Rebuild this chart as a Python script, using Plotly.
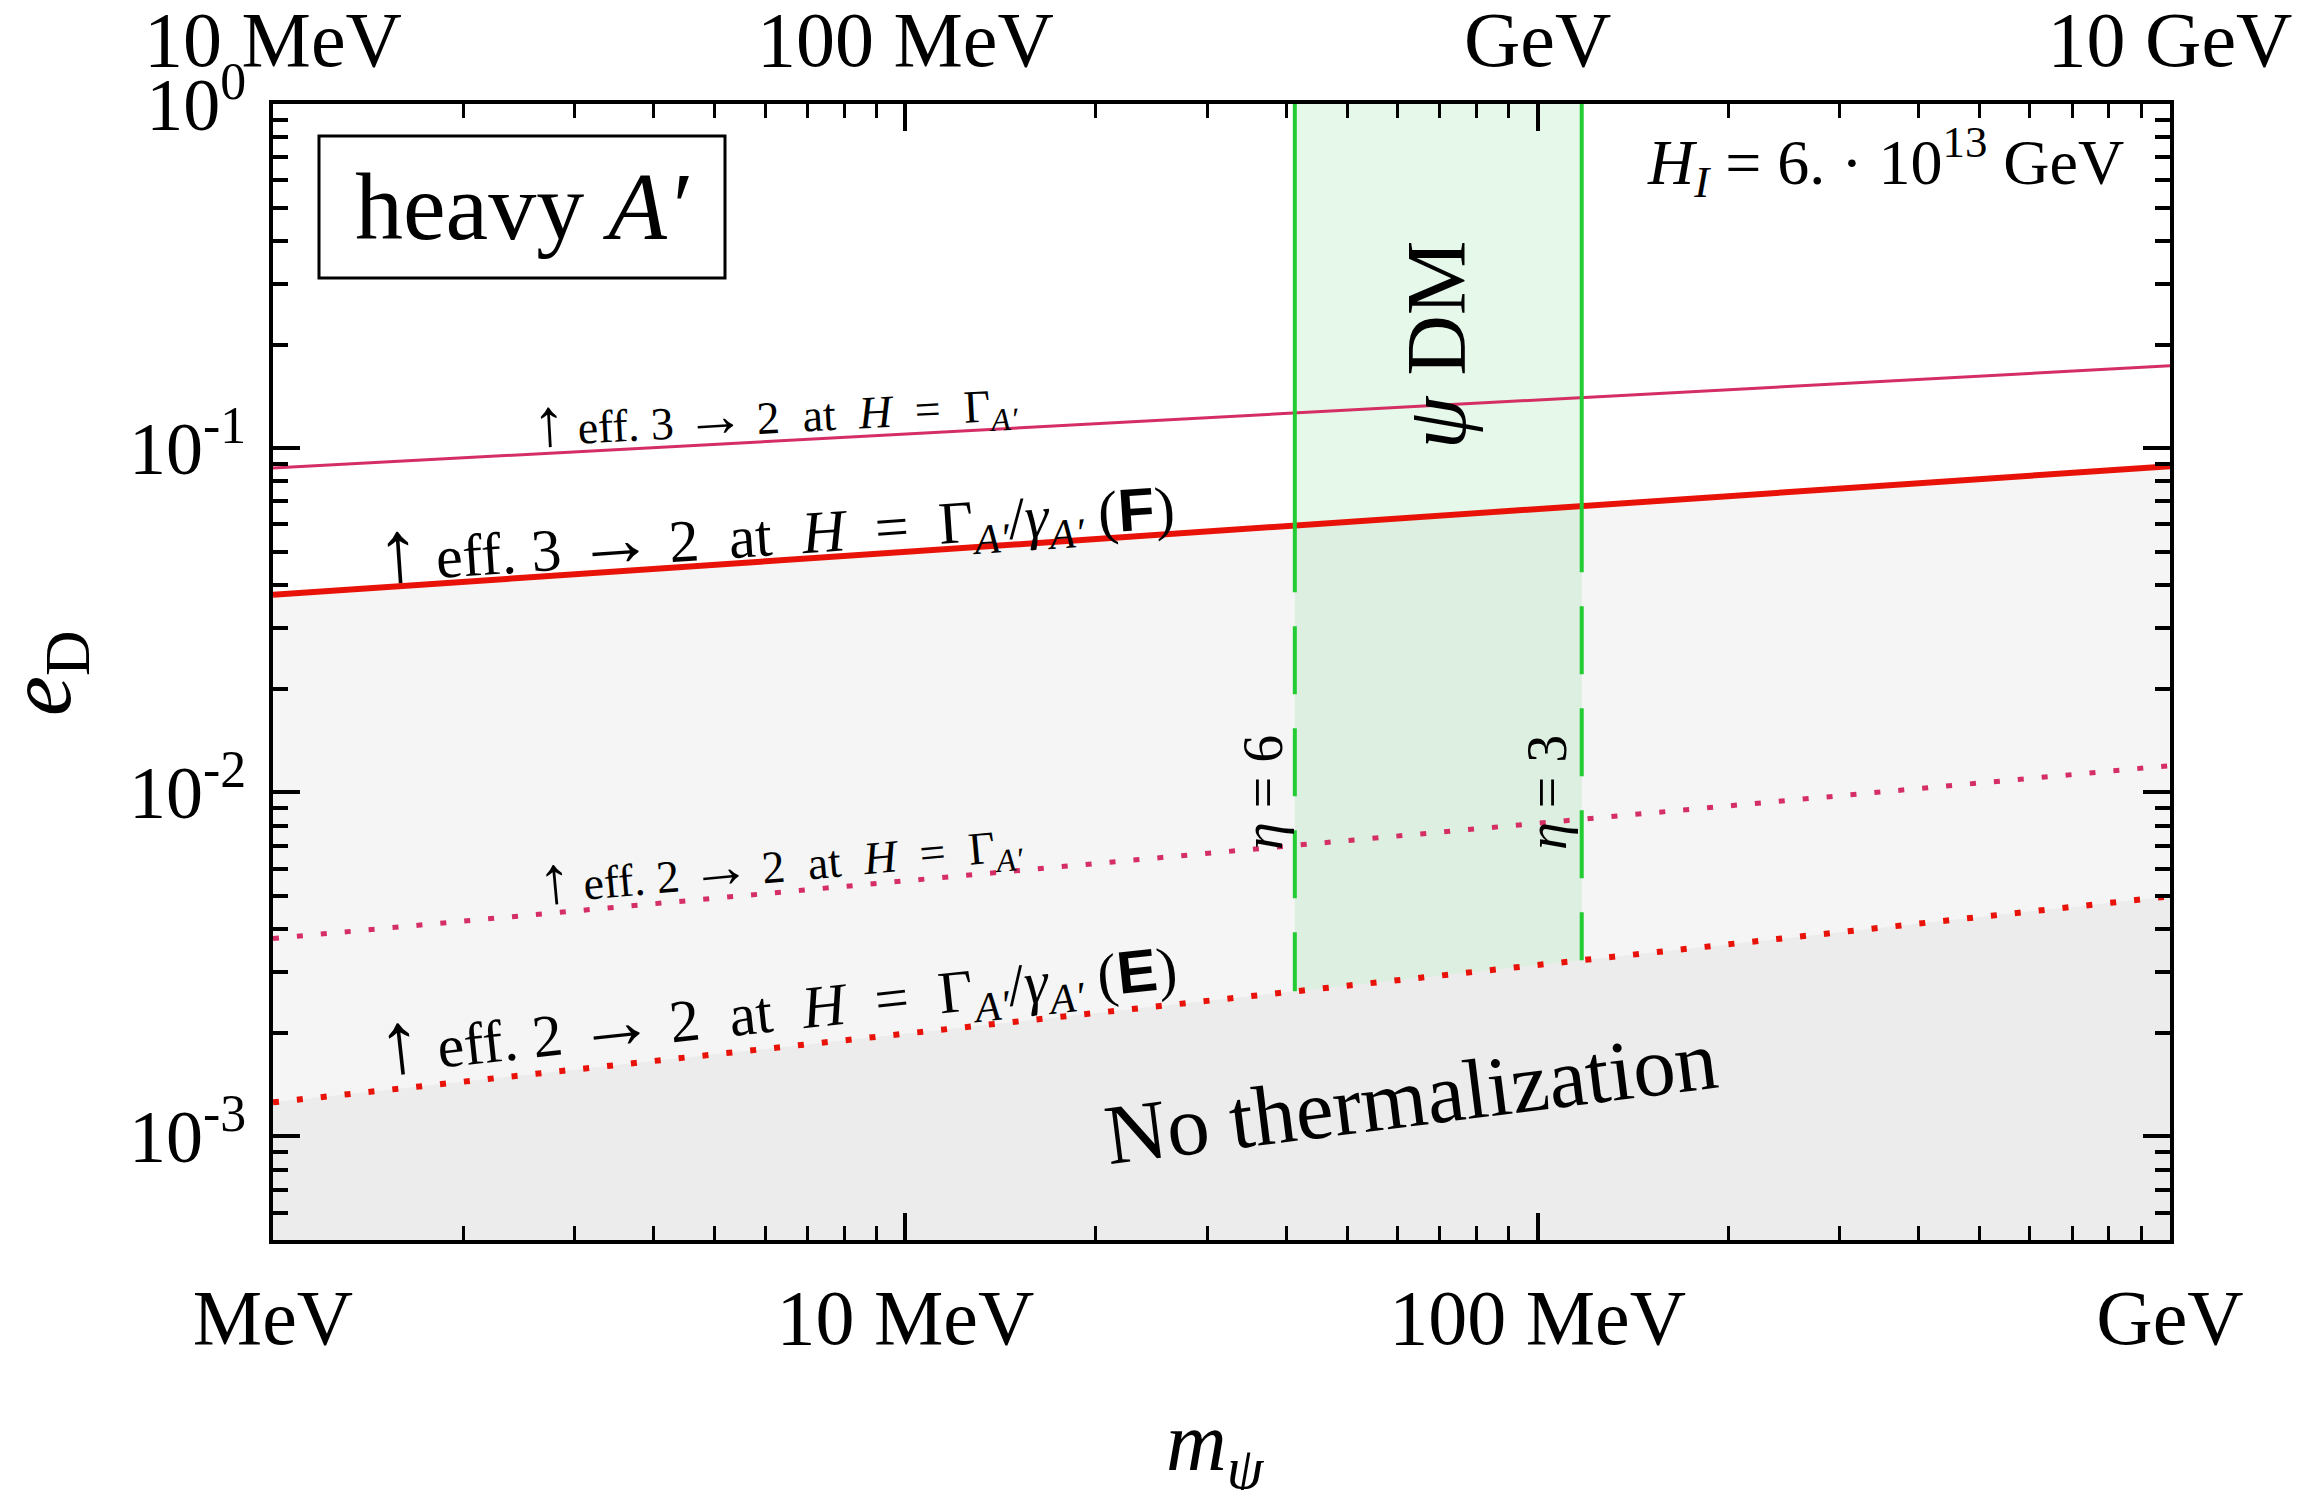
import numpy as np
import plotly.graph_objects as go

# Dark-matter mass grid (MeV) and the coupling bounds e_D along it
m_psi = [1.0, 1000.0]
ed_32_gamma = [0.0875, 0.1734]            # eff. 3->2 at H = Gamma_A'
ed_32_gamma_boost = [0.0375, 0.0886]      # eff. 3->2 at H = Gamma_A'/gamma_A'  (F)
ed_22_gamma = [0.00376, 0.01195]          # eff. 2->2 at H = Gamma_A'
ed_22_gamma_boost = [0.001256, 0.004985]  # eff. 2->2 at H = Gamma_A'/gamma_A'  (E)

# psi DM band edges (MeV) for eta = 6 and eta = 3
m_dm_band = [41.3, 117.4]
eta_values = ["6", "3"]
ed_solid_top = [0.0381, 0.0436]  # band edges turn dashed below these couplings

# Tick labels
x_ticks = [1, 10, 100, 1000]
x_ticktext = ["MeV", "10 MeV", "100 MeV", "GeV"]
x2_ticks = [10, 100, 1000, 10000]
x2_ticktext = ["10 MeV", "100 MeV", "GeV", "10 GeV"]
y_ticks = [1e-3, 1e-2, 1e-1, 1.0]
y_ticktext = ["10<sup>-3</sup>", "10<sup>-2</sup>", "10<sup>-1</sup>", "10<sup>0</sup>"]

SERIF = "Liberation Serif"
PINK = "rgb(212,46,100)"
RED = "rgb(232,18,8)"
GREEN = "rgb(34,204,51)"

E_FLOOR, E_CEIL = 1e-4, 2.0


def loglog(m, xs, ys):
    return 10 ** np.interp(np.log10(m), np.log10(xs), np.log10(ys))


fig = go.Figure()

# shaded regions below the (F) and (E) lines
fig.add_trace(go.Scatter(
    x=[m_psi[0], m_psi[1], m_psi[1], m_psi[0]],
    y=[ed_32_gamma_boost[0], ed_32_gamma_boost[1], E_FLOOR, E_FLOOR],
    fill="toself", fillcolor="#f5f5f5", line=dict(width=0), mode="lines",
    hoverinfo="skip"))
fig.add_trace(go.Scatter(
    x=[m_psi[0], m_psi[1], m_psi[1], m_psi[0]],
    y=[ed_22_gamma_boost[0], ed_22_gamma_boost[1], E_FLOOR, E_FLOOR],
    fill="toself", fillcolor="#ececec", line=dict(width=0), mode="lines",
    hoverinfo="skip"))

# psi DM band, bounded below by the (E) line
e_band_low = loglog(m_dm_band, m_psi, ed_22_gamma_boost)
fig.add_trace(go.Scatter(
    x=[m_dm_band[0], m_dm_band[0], m_dm_band[1], m_dm_band[1]],
    y=[E_CEIL, e_band_low[0], e_band_low[1], E_CEIL],
    fill="toself", fillcolor="rgba(0,190,40,0.10)", line=dict(width=0),
    mode="lines", hoverinfo="skip"))

# thermalization bounds
fig.add_trace(go.Scatter(x=m_psi, y=ed_32_gamma, mode="lines",
                         line=dict(color=PINK, width=3), hoverinfo="skip"))
fig.add_trace(go.Scatter(x=m_psi, y=ed_32_gamma_boost, mode="lines",
                         line=dict(color=RED, width=6), hoverinfo="skip"))
fig.add_trace(go.Scatter(x=m_psi, y=ed_22_gamma, mode="lines",
                         line=dict(color=PINK, width=5, dash="6px,18px"),
                         hoverinfo="skip"))
fig.add_trace(go.Scatter(x=m_psi, y=ed_22_gamma_boost, mode="lines",
                         line=dict(color=RED, width=6, dash="6px,18px"),
                         hoverinfo="skip"))

# band edges: solid at large coupling, dashed down to the (E) line
for m_edge, e_solid, e_low in zip(m_dm_band, ed_solid_top, e_band_low):
    fig.add_trace(go.Scatter(x=[m_edge, m_edge], y=[E_CEIL, e_solid], mode="lines",
                             line=dict(color=GREEN, width=4), hoverinfo="skip"))
    fig.add_trace(go.Scatter(x=[m_edge, m_edge], y=[e_solid, e_low], mode="lines",
                             line=dict(color=GREEN, width=4, dash="0px,34px,68px,0px"),
                             hoverinfo="skip"))

# helpers that carry the secondary top / right axes
fig.add_trace(go.Scatter(x=[x2_ticks[0], x2_ticks[-1]], y=[1, 1], xaxis="x2", yaxis="y",
                         mode="lines", line=dict(width=0), opacity=0, hoverinfo="skip"))
fig.add_trace(go.Scatter(x=[m_psi[0], m_psi[1]], y=[1, 1], xaxis="x", yaxis="y2",
                         mode="lines", line=dict(width=0), opacity=0, hoverinfo="skip"))

# plot-area geometry (px) used to place labels
L, R, T, B = 273, 2170, 104, 1240
W, H = R - L, B - T


def note(text, px, py, size, angle=0):
    return dict(text=text, x=(px - L) / W, y=(B - py) / H, xref="paper", yref="paper",
                showarrow=False, textangle=angle, xanchor="center", yanchor="middle",
                font=dict(family=SERIF, size=size, color="black"))


NB = "\u00a0"
GA = "Γ<sub><i>A′</i></sub>"
GB = "<i>γ</i><sub><i>A′</i></sub>"
SANS_B = '<span style="font-family:Liberation Sans"><b>{}</b></span>'


def big(glyph, size):
    return '<span style="font-size:{}px">{}</span>'.format(round(size), glyph)


def rate_label(proc, size):
    a, b = proc
    return (big("↑", 1.45 * size) + NB + "eff." + NB + a + NB + big("→", 1.3 * size) + NB
            + b + NB + " at" + NB + " <i>H</i>" + NB + " =" + NB + " " + GA)


annotations = [
    note("heavy <i>A′</i>", 522, 206, 96),
    note("<i>H</i><sub><i>I</i></sub> = 6. · 10<sup>13</sup> GeV", 1885, 162, 64),
    note("<i>ψ</i> DM", 1436, 345, 84, -90),
    note(rate_label("32", 46), 775, 412, 46, -3.1),
    note(rate_label("32", 60) + "/" + GB + " (" + SANS_B.format("F") + ")",
         775, 527, 60, -3.9),
    note(rate_label("22", 46), 780, 860, 46, -5.2),
    note(rate_label("22", 60) + "/" + GB + " (" + SANS_B.format("E") + ")",
         777, 1003, 60, -6.2),
    note("No thermalization", 1411, 1097, 85, -7.2),
    note("<i>η</i> = " + eta_values[0], 1263, 793, 56, -90),
    note("<i>η</i> = " + eta_values[1], 1547, 793, 56, -90),
    note("<i>m</i><sub><i>ψ</i></sub>", 1215, 1448, 84),
    note("<i>e</i><sub>D</sub>", 46, 674, 90, -90),
]

shapes = [dict(type="rect", xref="paper", yref="paper",
               x0=(319 - L) / W, x1=(725 - L) / W, y0=(B - 278) / H, y1=(B - 136) / H,
               line=dict(color="black", width=3), fillcolor="rgba(0,0,0,0)", layer="above")]


def minor_vals(decades):
    return [k * 10.0 ** d for d in decades for k in range(2, 10)]


tickfont = dict(family=SERIF, size=78, color="black")
common_x = dict(type="log", showgrid=False, zeroline=False, ticks="inside", automargin=False,
                ticklen=27, tickwidth=4, tickcolor="black", tickfont=tickfont)
common_y = dict(type="log", range=[np.log10(5e-4), 0], tickvals=y_ticks, showgrid=False,
                zeroline=False, ticks="inside", ticklen=27, tickwidth=4, tickcolor="black",
                automargin=False,
                minor=dict(ticks="inside", ticklen=15, tickwidth=4, tickcolor="black",
                           tickvals=minor_vals([-4, -3, -2, -1])[3:], showgrid=False))

fig.update_layout(
    width=2321, height=1490, autosize=False,
    margin=dict(l=L, r=2321 - R, t=T, b=1490 - B, autoexpand=False),
    paper_bgcolor="white", plot_bgcolor="white",
    showlegend=False, hovermode=False,
    annotations=annotations, shapes=shapes,
    xaxis=dict(**common_x, range=[0, 3], tickvals=x_ticks, ticktext=x_ticktext,
               showline=True, linewidth=4, linecolor="black", mirror=True,
               ticklabelstandoff=6,
               minor=dict(ticks="inside", ticklen=14, tickwidth=3, tickcolor="black",
                          tickvals=minor_vals([0, 1, 2]), showgrid=False)),
    xaxis2=dict(**common_x, range=[1, 4], overlaying="x", side="top",
                tickvals=x2_ticks, ticktext=x2_ticktext, showline=False,
                ticklabelstandoff=21,
                minor=dict(ticks="inside", ticklen=14, tickwidth=3, tickcolor="black",
                           tickvals=minor_vals([1, 2, 3]), showgrid=False)),
    yaxis=dict(**common_y, ticktext=y_ticktext,
               tickfont=dict(family=SERIF, size=74, color="black"),
               showline=True, linewidth=4, linecolor="black", mirror=True,
               ticklabelstandoff=8),
    yaxis2=dict(**common_y, overlaying="y", side="right", showticklabels=False),
)

fig.write_html("out.html")
